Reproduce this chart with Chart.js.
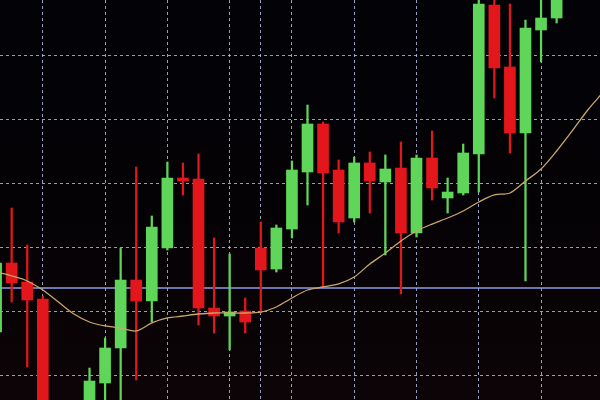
<!DOCTYPE html>
<html>
<head>
<meta charset="utf-8">
<title>Candles</title>
<script src="https://cdn.jsdelivr.net/npm/chart.js@4.4.1/dist/chart.umd.min.js"></script>
<style>
    html, body { margin: 0; padding: 0; background: #030204; }
    #wrap {
        width: 600px;
        height: 400px;
        position: relative;
        background: linear-gradient(180deg, #020207 0%, #050205 55%, #0c0406 100%);
    }
</style>
</head>
<body>
<div id="wrap"><canvas id="candleChart"></canvas></div>
<script>
// Candle index (bar number on the screen)
const candleIndex = [0, 1, 2, 3, 4, 5, 6, 7, 8, 9, 10, 11, 12, 13, 14, 15, 16, 17, 18, 19,
    20, 21, 22, 23, 24, 25, 26, 27, 28, 29, 30, 31, 32, 33, 34, 35, 36, 37, 38, 39];

// OHLC
const openPrices = [106.72, 117.50, 114.53, 111.88, 89.84, 85.94, 92.19, 98.75, 104.22, 114.84,
    111.56, 119.84, 130.78, 130.63, 110.47, 109.22, 110.00, 119.84, 116.56, 122.81,
    131.72, 139.22, 132.03, 124.53, 133.13, 130.16, 132.34, 122.19, 133.91, 127.66,
    128.44, 134.53, 157.81, 148.13, 137.81, 153.91, 155.78, 161.00, 165.00, 162.00];
const highPrices = [118.59, 126.09, 120.31, 112.34, 91.41, 93.75, 101.09, 105.78, 119.84, 132.50,
    124.84, 133.28, 133.13, 134.53, 121.41, 118.91, 112.03, 123.91, 123.44, 133.44,
    142.19, 139.53, 133.59, 134.06, 134.84, 134.38, 136.41, 134.38, 138.13, 130.78,
    136.09, 159.84, 159.38, 157.97, 155.47, 159.38, 161.72, 166.00, 167.00, 168.00];
const lowPrices = [105.16, 111.41, 101.25, 87.50, 83.59, 84.38, 91.09, 94.53, 93.75, 99.22,
    108.28, 119.53, 128.13, 107.81, 106.56, 103.91, 106.56, 109.69, 116.09, 121.41,
    126.56, 113.75, 122.19, 123.91, 125.31, 118.75, 112.66, 121.56, 127.34, 125.31,
    128.13, 128.59, 143.28, 134.69, 114.69, 148.91, 155.00, 159.50, 159.80, 160.50];
const closePrices = [117.50, 114.38, 111.72, 89.84, 85.16, 92.19, 99.06, 104.22, 114.84, 111.56,
    123.13, 130.78, 130.31, 110.47, 109.22, 109.84, 108.28, 116.41, 122.97, 132.03,
    139.22, 131.56, 123.91, 133.13, 130.31, 132.19, 122.19, 133.91, 129.22, 128.59,
    134.69, 157.97, 147.97, 137.81, 154.22, 155.78, 160.94, 165.00, 162.00, 167.00];

// Moving average line
const maValues = [116.09, 115.47, 114.69, 113.28, 111.41, 109.53, 108.28, 107.66, 107.34, 106.88,
    108.13, 108.91, 109.22, 109.53, 109.69, 109.69, 109.69, 109.84, 110.63, 112.03,
    113.28, 113.75, 114.22, 115.31, 117.34, 119.06, 120.94, 122.50, 123.59, 124.53,
    125.63, 127.03, 128.13, 128.44, 130.31, 132.19, 135.00, 138.13, 141.41, 144.22];

// Horizontal price level (solid blue line)
const levelPrice = 113.59;

// Grid positions
const gridCandles = [3, 7, 11, 15, 17, 19, 23, 27, 31, 35];
const gridPrices = [100, 110, 120, 130, 140, 150];

const UP_COLOR = '#5fd65a';
const DOWN_COLOR = '#e3161c';
const GRID_COLOR = 'rgba(196, 200, 240, 0.78)';

function isUp(i) {
    return closePrices[i] >= openPrices[i];
}

function buildCandleChart() {
    const ctx = document.getElementById('candleChart');
    if (!ctx) return;

    const bodies = candleIndex.map((k, i) => ({ x: k, y: [openPrices[i], closePrices[i]] }));
    const wicks = candleIndex.map((k, i) => ({ x: k, y: [lowPrices[i], highPrices[i]] }));
    const colors = candleIndex.map((k, i) => isUp(i) ? UP_COLOR : DOWN_COLOR);
    const ma = candleIndex.map((k, i) => ({ x: k, y: maValues[i] }));
    const level = [
        { x: candleIndex[0], y: levelPrice },
        { x: candleIndex[candleIndex.length - 1], y: levelPrice }
    ];

    new Chart(ctx, {
        type: 'bar',
        data: {
            datasets: [
                {
                    type: 'line',
                    label: 'MA',
                    data: ma,
                    borderColor: '#caa66a',
                    borderWidth: 1.3,
                    pointRadius: 0,
                    tension: 0.3,
                    order: 0
                },
                {
                    label: 'body',
                    data: bodies,
                    backgroundColor: colors,
                    borderWidth: 0,
                    barThickness: 11,
                    grouped: false,
                    order: 1
                },
                {
                    label: 'wick',
                    data: wicks,
                    backgroundColor: colors,
                    borderWidth: 0,
                    barThickness: 1.6,
                    grouped: false,
                    order: 2
                },
                {
                    type: 'line',
                    label: 'level',
                    data: level,
                    borderColor: '#8f9ce6',
                    borderWidth: 1.6,
                    pointRadius: 0,
                    order: 3
                }
            ]
        },
        options: {
            responsive: true,
            maintainAspectRatio: false,
            animation: false,
            layout: { padding: 0 },
            plugins: {
                legend: { display: false },
                tooltip: { enabled: false }
            },
            scales: {
                x: {
                    type: 'linear',
                    offset: false,
                    min: 0.2505,
                    max: 38.786,
                    afterBuildTicks: scale => {
                        scale.ticks = gridCandles.map(v => ({ value: v }));
                    },
                    ticks: { display: false },
                    grid: { color: GRID_COLOR, lineWidth: 1, drawTicks: false, offset: false },
                    border: { display: false, dash: [3, 3] }
                },
                y: {
                    min: 96.094,
                    max: 158.594,
                    afterBuildTicks: scale => {
                        scale.ticks = gridPrices.map(v => ({ value: v }));
                    },
                    ticks: { display: false },
                    grid: { color: GRID_COLOR, lineWidth: 1, drawTicks: false },
                    border: { display: false, dash: [3, 3] }
                }
            }
        }
    });
}

document.addEventListener('DOMContentLoaded', buildCandleChart);
</script>
</body>
</html>
